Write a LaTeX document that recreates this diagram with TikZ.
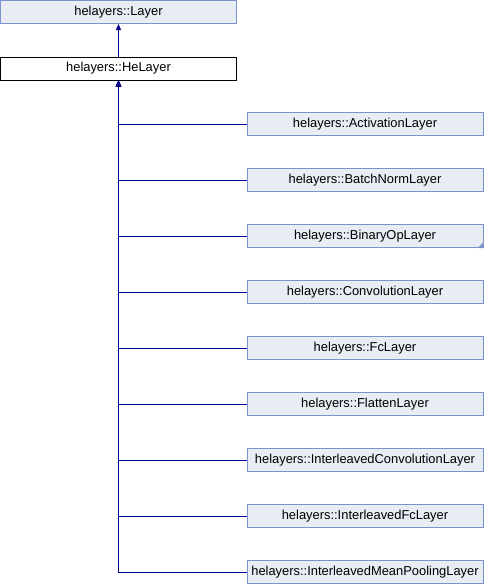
\documentclass[tikz,border=0pt]{standalone}
\usepackage{fontspec}
\setmainfont{Liberation Sans}
\usetikzlibrary{arrows.meta}
\definecolor{boxfill}{RGB}{232,236,245}
\definecolor{boxline}{RGB}{124,146,200}
\definecolor{linkcol}{RGB}{0,0,140}
\tikzset{
  cls/.style={draw=boxline, fill=boxfill, line width=1pt, minimum width=236pt, minimum height=23pt, inner sep=0pt, font=\fontsize{12.9}{14}\selectfont},
  curcls/.style={cls, draw=black, fill=white},
  inh/.style={draw=linkcol, line width=1pt, -{Triangle[length=6pt,width=5pt]}}
}
\begin{document}
\begin{tikzpicture}[x=1pt,y=-1pt]
\useasboundingbox (0,0) rectangle (484,584);
\node[cls] (layer) at (118.5,12) {helayers::Layer};
\node[curcls] (he) at (118.5,68.5) {helayers::HeLayer};
\node[cls] (act) at (365,124) {helayers::ActivationLayer};
\node[cls] (bn) at (365,180) {helayers::BatchNormLayer};
\node[cls] (bin) at (365,236) {helayers::BinaryOpLayer};
\node[cls] (conv) at (365,292) {helayers::ConvolutionLayer};
\node[cls] (fc) at (365,348) {helayers::FcLayer};
\node[cls] (flat) at (365,404) {helayers::FlattenLayer};
\node[cls] (iconv) at (365,460) {helayers::InterleavedConvolutionLayer};
\node[cls] (ifc) at (365,516) {helayers::InterleavedFcLayer};
\node[cls] (imp) at (365,572) {helayers::InterleavedMeanPoolingLayer};
\fill[boxline] (bin.south east) -- ++(-6,0) -- ++(6,-6) -- cycle;
\draw[inh] (he.north) -- (layer.south);
\foreach \n in {imp,ifc,iconv,flat,fc,conv,bin,bn,act}
  \draw[inh] (\n.west) -| (he.south);
\end{tikzpicture}
\end{document}
